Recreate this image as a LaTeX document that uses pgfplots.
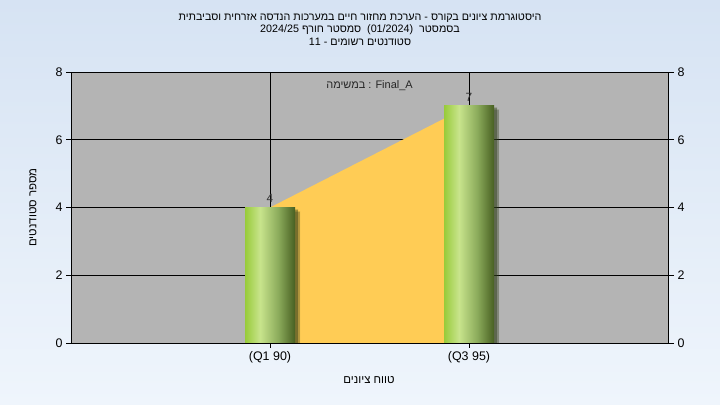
\documentclass[border=0pt]{standalone}
\usepackage{fontspec}
\setmainfont{Liberation Sans}
\newfontfamily\hebfont[Script=Hebrew]{Liberation Sans}
\TeXXeTstate=1
\usepackage{pgfplots}
\pgfplotsset{compat=1.18}

\definecolor{bgtop}{RGB}{214,227,243}
\definecolor{bgbot}{RGB}{239,245,252}
\definecolor{plotgray}{RGB}{180,180,180}
\definecolor{areayel}{RGB}{255,204,85}
\definecolor{g1}{RGB}{152,203,58}
\definecolor{g2}{RGB}{200,228,140}
\definecolor{g3}{RGB}{140,172,92}
\definecolor{g4}{RGB}{72,96,34}

\pgfdeclarehorizontalshading{bargreen}{100bp}{color(0bp)=(g1); color(25bp)=(g1); color(40bp)=(g2); color(58bp)=(g3); color(75bp)=(g4); color(100bp)=(g4)}

\begin{document}
\begin{tikzpicture}
\shade[top color=bgtop, bottom color=bgbot] (0,0) rectangle (720bp,405bp);
\node[font=\fontsize{10.8}{12.8}\selectfont, align=center, anchor=north] at (360bp,395bp) {%
{\hebfont\beginR היסטוגרמת ציונים בקורס - הערכת מחזור חיים במערכות הנדסה אזרחית וסביבתית\endR}\\
{\hebfont\beginR בסמסטר \ \beginL(01/2024)\endL{}\ \ סמסטר חורף \beginL 2024/25\endL{}\endR}\\
{\hebfont\beginR סטודנטים רשומים - \beginL 11\endL{}\endR}};
\node[rotate=90, font=\fontsize{11.5}{13}\selectfont] at (33bp,197.5bp) {\hebfont\beginR מספר סטודנטים\endR};
\node[font=\fontsize{11.5}{13}\selectfont] at (369bp,25bp) {\hebfont\beginR טווח ציונים\endR};

\pgfplotsset{
  common/.style={
    at={(71bp,62bp)}, anchor=south west,
    scale only axis, width=597bp, height=271bp,
    xmin=0, xmax=3, ymin=0, ymax=8,
    ytick={0,2,4,6,8},
    tick align=outside, major tick length=6bp,
    tick style={black, line width=0.8pt},
    axis line style={black, line width=0.8pt},
    /pgf/number format/assume math mode=true,
    tick label style={font=\fontsize{12.5}{14}\selectfont},
  },
  greenbar/.style={ybar, bar width=50bp, bar shift=0pt, draw=none, shading=bargreen,
    preaction={fill=black, opacity=0.2, transform canvas={xshift=5bp, yshift=-4bp}},
    preaction={fill=black, opacity=0.25, transform canvas={xshift=3bp, yshift=-2bp}},
    nodes near coords, point meta=y,
    every node near coord/.append style={anchor=south, yshift=1bp, font=\fontsize{12}{14}\selectfont, text=black!80}},
}
\begin{axis}[common,
  axis background/.style={fill=plotgray},
  xtick={1,2}, xticklabels={(Q1 90),(Q3 95)},
  xtick pos=bottom, ytick pos=left,
  major tick length=5bp,
  grid=major, grid style={black, line width=0.8pt},
]
\addplot[fill=areayel, draw=none] coordinates {(1,4) (2,7)} \closedcycle;
\addplot[greenbar] coordinates {(1,4)};
\addplot[greenbar] coordinates {(2,7)};
\node[font=\fontsize{11}{13}\selectfont, text=black!85] at (axis cs:1.5,7.6) {{\hebfont\beginR במשימה\endR} : Final\_A};
\end{axis}
\begin{axis}[common, hide x axis, axis y line*=right]
\addplot[draw=none] coordinates {(0,0)};
\end{axis}
\end{tikzpicture}
\end{document}
